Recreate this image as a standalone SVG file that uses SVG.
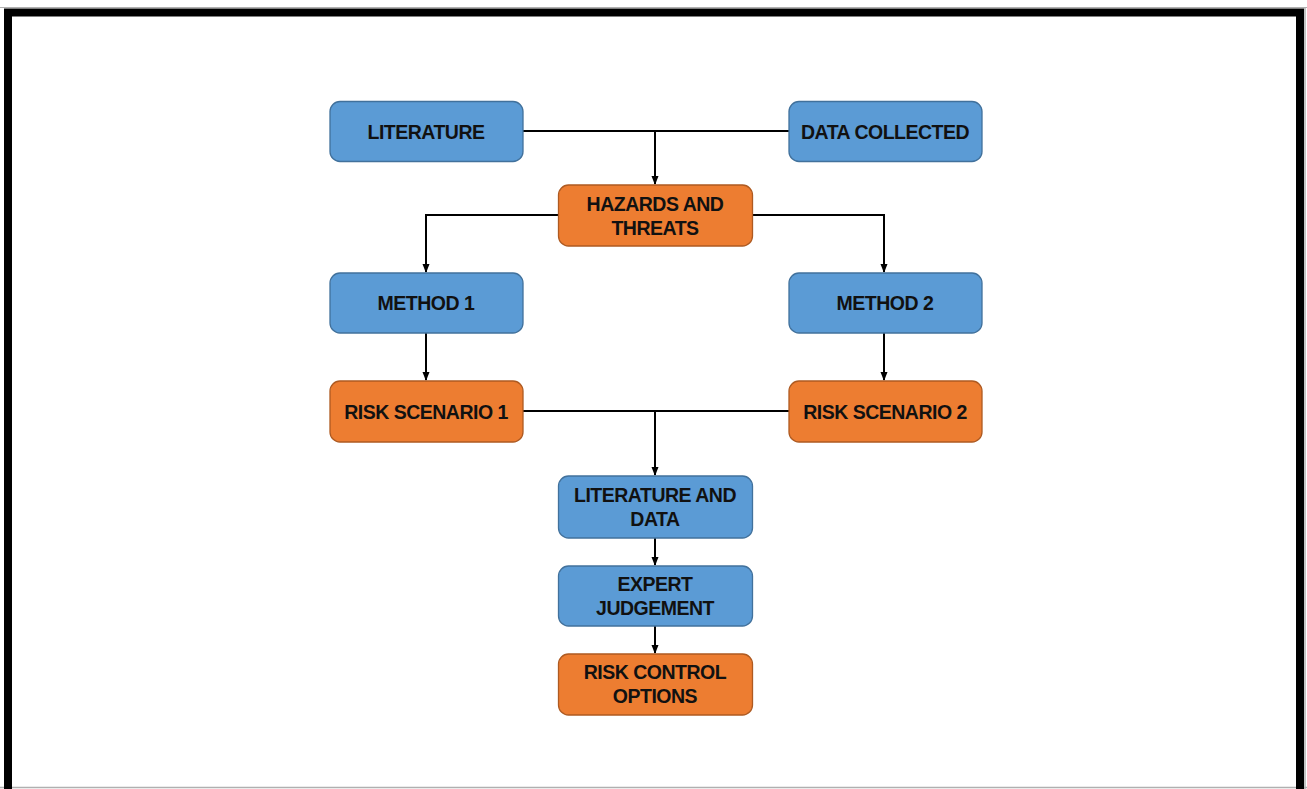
<svg xmlns="http://www.w3.org/2000/svg" width="1307" height="789" viewBox="0 0 1307 789">
  <defs>
    <style>
      .blue { fill: #5B9BD5; stroke: #41719C; stroke-width: 1.3; }
      .orange { fill: #ED7D31; stroke: #AE5A21; stroke-width: 1.3; }
      .lbl { font-family: "Liberation Sans", Arial, sans-serif; font-weight: bold; font-size: 19.5px; fill: #111; text-anchor: middle; letter-spacing: -0.5px; }
      .conn { fill: none; stroke: #000; stroke-width: 2; }
    </style>
    <marker id="arrow" markerWidth="10" markerHeight="10" refX="8" refY="5" orient="auto" markerUnits="userSpaceOnUse">
      <path d="M0,1.5 L9,5 L0,8.5 Z" fill="#000"/>
    </marker>
  </defs>

  <rect width="1307" height="789" fill="#fff"/>
  <!-- frame -->
  <line x1="0" y1="7.5" x2="1307" y2="7.5" stroke="#b0b0b0" stroke-width="1"/>
  <line x1="0" y1="787.5" x2="1307" y2="787.5" stroke="#b0b0b0" stroke-width="1.5"/>
  <line x1="1305" y1="7" x2="1305" y2="789" stroke="#b0b0b0" stroke-width="1.5"/>
  <path d="M8,789 V12.5 H1300 V789" fill="none" stroke="#000" stroke-width="8"/>

  <g id="connectors">
    <path class="conn" d="M523,131 H789"/>
    <path class="conn" d="M655,131 V184" marker-end="url(#arrow)"/>
    <path class="conn" d="M558,215 H426 V272" marker-end="url(#arrow)"/>
    <path class="conn" d="M753,215 H884 V272" marker-end="url(#arrow)"/>
    <path class="conn" d="M426,333 V380" marker-end="url(#arrow)"/>
    <path class="conn" d="M884,333 V380" marker-end="url(#arrow)"/>
    <path class="conn" d="M523,411 H789"/>
    <path class="conn" d="M655,411 V475" marker-end="url(#arrow)"/>
    <path class="conn" d="M655,538 V565" marker-end="url(#arrow)"/>
    <path class="conn" d="M655,626 V653" marker-end="url(#arrow)"/>
  </g>

  <g id="literature">
    <rect class="blue" x="330" y="101.5" width="193" height="60" rx="10"/>
    <text class="lbl" x="426" y="139">LITERATURE</text>
  </g>
  <g id="data-collected">
    <rect class="blue" x="789" y="101.5" width="193" height="60" rx="10"/>
    <text class="lbl" x="885" y="139">DATA COLLECTED</text>
  </g>
  <g id="hazards">
    <rect class="orange" x="558.5" y="185" width="194" height="61" rx="10"/>
    <text class="lbl" x="655" y="211">HAZARDS AND</text>
    <text class="lbl" x="655" y="235">THREATS</text>
  </g>
  <g id="method1">
    <rect class="blue" x="330" y="273" width="193" height="60" rx="10"/>
    <text class="lbl" x="426" y="310">METHOD 1</text>
  </g>
  <g id="method2">
    <rect class="blue" x="789" y="273" width="193" height="60" rx="10"/>
    <text class="lbl" x="885" y="310">METHOD 2</text>
  </g>
  <g id="risk1">
    <rect class="orange" x="330" y="381" width="193" height="61" rx="10"/>
    <text class="lbl" x="426" y="418.5">RISK SCENARIO 1</text>
  </g>
  <g id="risk2">
    <rect class="orange" x="789" y="381" width="193" height="61" rx="10"/>
    <text class="lbl" x="885" y="418.5">RISK SCENARIO 2</text>
  </g>
  <g id="lit-data">
    <rect class="blue" x="558.5" y="476" width="194" height="62" rx="10"/>
    <text class="lbl" x="655" y="502">LITERATURE AND</text>
    <text class="lbl" x="655" y="526">DATA</text>
  </g>
  <g id="expert">
    <rect class="blue" x="558.5" y="566" width="194" height="60" rx="10"/>
    <text class="lbl" x="655" y="591">EXPERT</text>
    <text class="lbl" x="655" y="615">JUDGEMENT</text>
  </g>
  <g id="rco">
    <rect class="orange" x="558.5" y="654" width="194" height="61" rx="10"/>
    <text class="lbl" x="655" y="679">RISK CONTROL</text>
    <text class="lbl" x="655" y="703">OPTIONS</text>
  </g>
</svg>
